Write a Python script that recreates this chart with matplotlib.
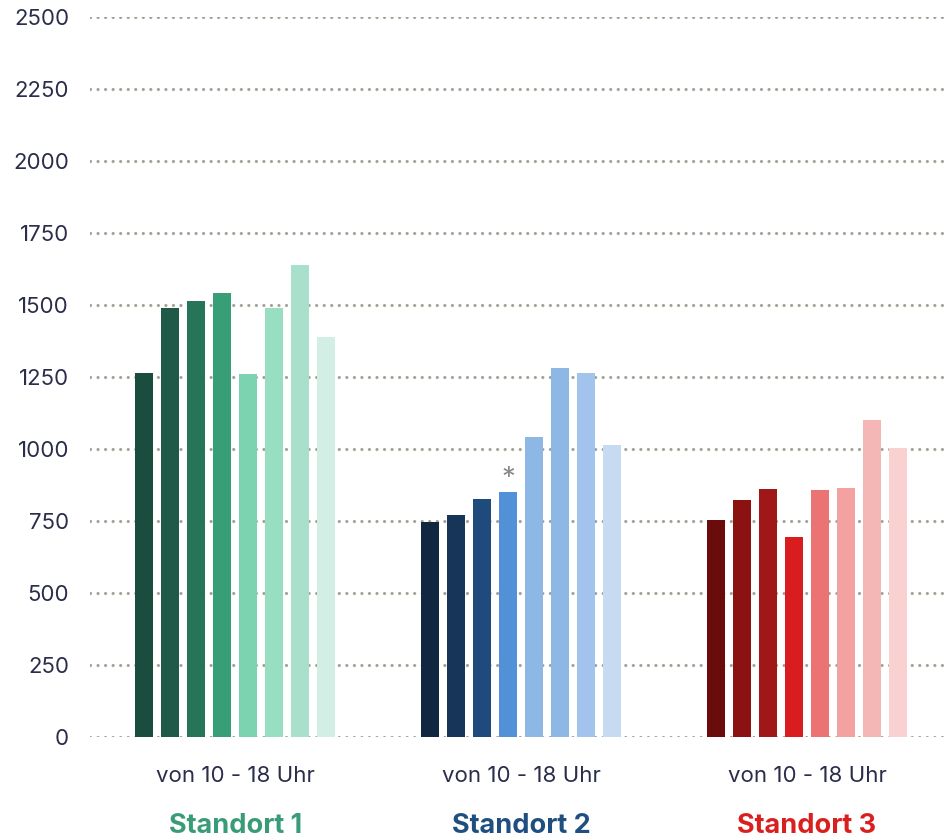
import matplotlib
matplotlib.use('Agg')
import matplotlib.pyplot as plt

plt.rcParams['font.family'] = ['Inter', 'DejaVu Sans']

standorte = ['Standort 1', 'Standort 2', 'Standort 3']
zeitraum = 'von 10 - 18 Uhr'
werte_1 = [1265, 1490, 1515, 1540, 1262, 1490, 1640, 1390]
werte_2 = [745, 770, 825, 850, 1040, 1280, 1265, 1015]
werte_3 = [752, 822, 860, 695, 857, 864, 1100, 1005]
y_ticks = [0, 250, 500, 750, 1000, 1250, 1500, 1750, 2000, 2250, 2500]

farben_1 = ['#1a4d3e', '#1f5a48', '#267558', '#389e78', '#7bd3b0', '#97dec2', '#a8e0cc', '#d3efe5']
farben_2 = ['#11263f', '#163558', '#1e4b7c', '#5291d8', '#8db8e6', '#8db8e6', '#a2c3eb', '#c6daf2']
farben_3 = ['#6b0c0c', '#8c1111', '#a11616', '#d91d1f', '#ec7373', '#f3a1a1', '#f5b6b6', '#f9d1d1']
titel_farben = ['#3a9b78', '#1f4e80', '#d9201f']

text_farbe = '#2b2d4a'
grid_farbe = '#a3a396'

fig = plt.figure(figsize=(9.44, 8.4), dpi=100)
ax = fig.add_axes([90 / 944, 103 / 840, 854 / 944, 720 / 840])

gruppen = [werte_1, werte_2, werte_3]
farben = [farben_1, farben_2, farben_3]
abstand = 11
for g, (werte, cols) in enumerate(zip(gruppen, farben)):
    xs = [g * abstand + i for i in range(len(werte))]
    ax.bar(xs, werte, width=0.69, color=cols, zorder=3)

# stern ueber dem 4. balken von standort 2
ax.text(abstand + 3, werte_2[3], '*', ha='center', va='bottom',
        fontsize=20, color='#8a8a8a', zorder=4)

for t in y_ticks:
    ax.axhline(t, color=grid_farbe, lw=2.3, linestyle=(0, (0.01, 2.35)),
               dash_capstyle='round', zorder=1)

ax.set_ylim(0, 2500)
ax.set_xlim(-2.08, 30.77)
ax.set_yticks(y_ticks)
ax.set_yticklabels([str(t) for t in y_ticks], fontsize=16, color=text_farbe)
ax.tick_params(axis='y', length=0, pad=15)
ax.set_xticks([])
for s in ax.spines.values():
    s.set_visible(False)

for g, name in enumerate(standorte):
    xc = g * abstand + 3.5
    ax.text(xc, -137, zeitraum, ha='center', va='center', fontsize=16,
            color=text_farbe, clip_on=False)
    ax.text(xc, -308, name, ha='center', va='center', fontsize=19.5,
            fontweight='bold', color=titel_farben[g], clip_on=False)

fig.savefig('out.png', dpi=100)
